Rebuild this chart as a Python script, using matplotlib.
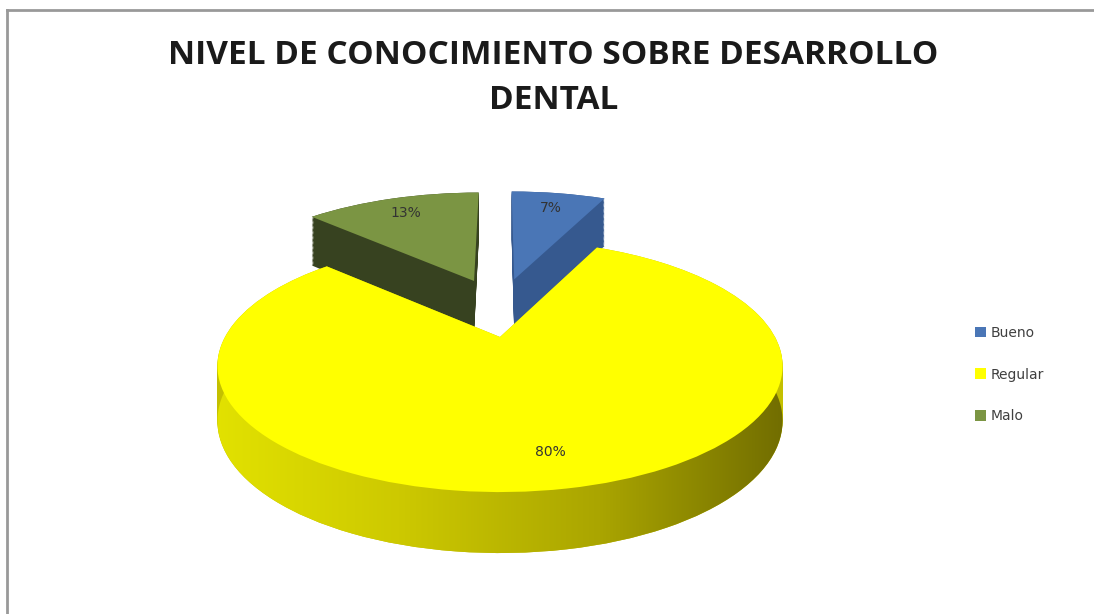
import matplotlib.pyplot as plt
import numpy as np
from matplotlib.lines import Line2D
from matplotlib.transforms import Transform
from matplotlib.colors import LinearSegmentedColormap

# data
labels = ['Bueno', 'Regular', 'Malo']
values = [7, 80, 13]
explode = [0.25, 0.0, 0.25]

top_colors = ['#4a76b6', '#ffff00', '#7b9543']
side_colors = ['#36598f', '#c4c000', '#374220']


class Persp(Transform):
    """tilted disk seen in perspective.
    drop pushes a layer down (pie depth), lift raises exploded slices."""
    input_dims = output_dims = 2

    def __init__(self, k=0.23, drop=0.0, lift=0.0):
        super().__init__()
        self.k = k
        self.drop = drop
        self.lift = lift

    def transform_non_affine(self, xy):
        xy = np.asarray(xy, float)
        s = 1.0 / (1.0 + self.k * xy[:, 1])
        y = xy[:, 1] * s - self.drop * np.sqrt(s) + self.lift
        return np.column_stack([xy[:, 0] * s, y])


fig = plt.figure(figsize=(10.94, 6.14), dpi=100)
ax = fig.add_axes([0, 0, 1, 1])

# pixel scale of the pie: centre (500, 337), 275 px across, 119 px deep
cx, cy, A, B = 500, 337, 275, 119.4
depth = 0.448
lift = 30 / B
layers = np.linspace(depth, 0.0, 40)


def draw_pie(drop, colors, show, z, up=0.0, pct=False):
    kw = dict(explode=explode, colors=colors, startangle=90, counterclock=False,
              frame=True, wedgeprops=dict(linewidth=0))
    if pct:
        out = ax.pie(values, autopct='%1.0f%%', pctdistance=0.8,
                     textprops=dict(color='#333333', fontsize=10), **kw)
    else:
        out = ax.pie(values, **kw)
    tr = Persp(drop=drop, lift=up) + ax.transData
    for i, w in enumerate(out[0]):
        w.set_transform(tr)
        w.set_zorder(z)
        w.set_visible(i in show)
    return out


# exploded back slices: side walls, then tops
for d in layers:
    draw_pie(d, side_colors, show=[0, 2], z=1, up=lift)
back_tops = draw_pie(0, top_colors, show=[0, 2], z=1.5, up=lift)[0]

# front slice side wall
bottom = None
for d in layers:
    w = draw_pie(d, side_colors, show=[1], z=2)[0]
    if bottom is None:
        bottom = w[1]

# shading on the yellow side wall
side_cmap = LinearSegmentedColormap.from_list(
    'side', ['#e4e400', '#cdc900', '#aaa500', '#6c6800'])
grad = np.linspace(0, 1, 256)[None, :]
im = ax.imshow(grad, cmap=side_cmap, aspect='auto', zorder=2.5,
               extent=(-1.1, 1.1, -2.0, 0.5))
im.set_clip_path(bottom)

# front top with the percentages
wedges, texts, autotexts = draw_pie(0, top_colors, show=[1], z=3, pct=True)
for i, t in enumerate(autotexts):
    proj = Persp(lift=lift if explode[i] > 0 else 0.0)
    t.set_position(proj.transform(t.get_position()))
    t.set_zorder(4)

ax.set_aspect('auto')
ax.set_xlim(-cx / A, (1094 - cx) / A)
ax.set_ylim(-(614 - cy) / B, cy / B)
ax.axis('off')

# legend
handles = [back_tops[0], wedges[1], back_tops[2]]
ax.legend(handles, labels, loc='center left', bbox_to_anchor=(0.88, 0.39),
          frameon=False, fontsize=10, labelcolor='#404040',
          handlelength=0.8, handleheight=0.8, handletextpad=0.3,
          labelspacing=2.0)

# title
fig.text(0.506, 0.91, 'NIVEL DE CONOCIMIENTO SOBRE DESARROLLO',
         ha='center', va='center', fontsize=24, fontfamily='Open Sans',
         fontweight='bold', color='#1a1a1a')
fig.text(0.506, 0.837, 'DENTAL', ha='center', va='center', fontsize=24,
         fontfamily='Open Sans', fontweight='bold', color='#1a1a1a')

# chart border
fig.add_artist(Line2D([0.0065, 1.0], [0.983, 0.983], transform=fig.transFigure,
                      color='#999999', lw=2))
fig.add_artist(Line2D([0.0065, 0.0065], [0.0, 0.983], transform=fig.transFigure,
                      color='#999999', lw=2))

fig.savefig('out.png', dpi=100)
